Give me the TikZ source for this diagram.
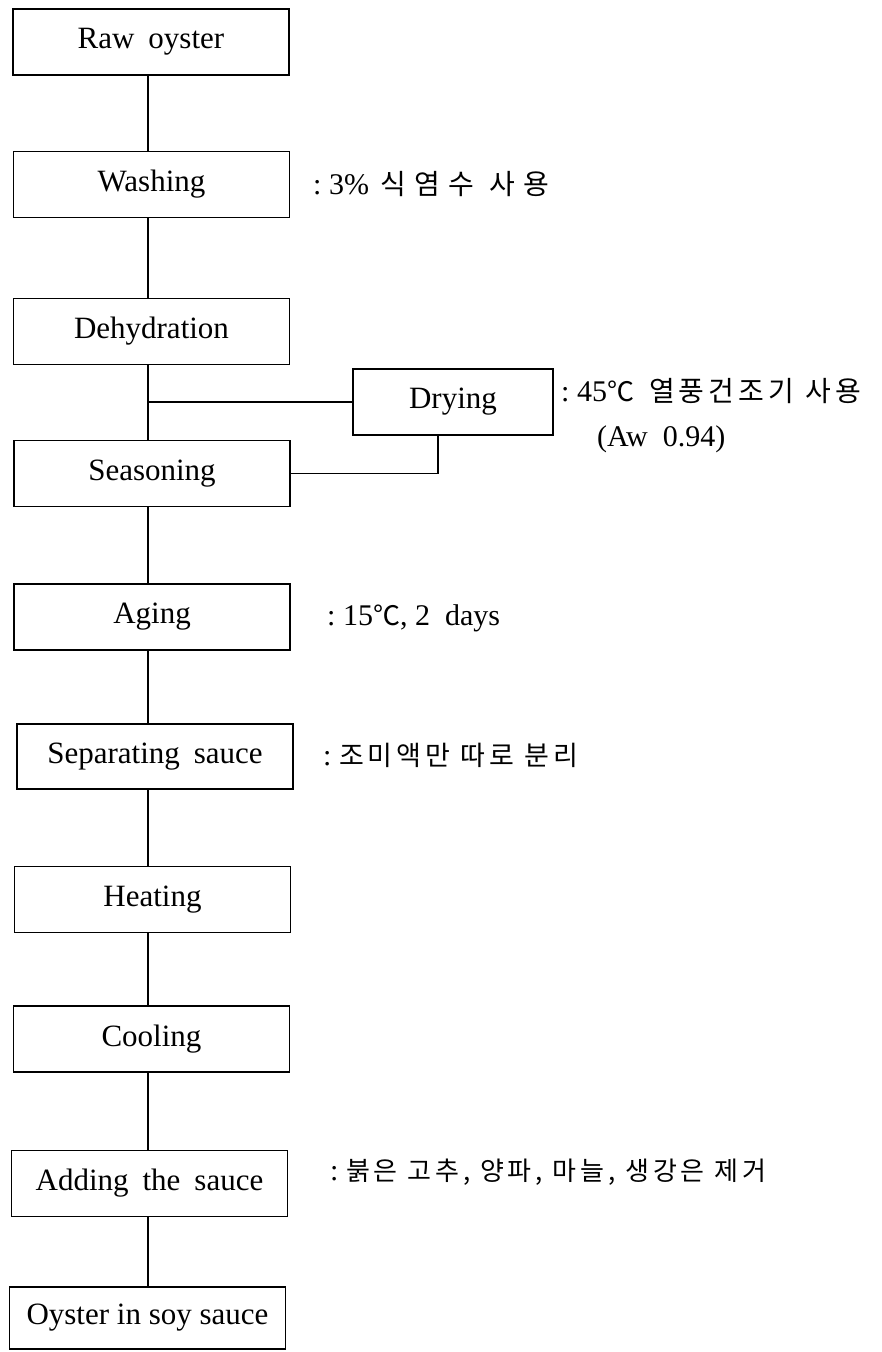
\documentclass[tikz,border=0pt]{standalone}
\usepackage{fontspec}
\setmainfont{Liberation Serif}
\newfontfamily\kr[LetterSpace=15]{Noto Sans CJK KR}
\newfontfamily\krwide[LetterSpace=30]{Noto Sans CJK KR}
\newfontfamily\krsym{Noto Sans CJK KR}
\usetikzlibrary{calc}

\newcommand{\krtext}[2]{{\kr\fontsize{#1}{#1}\selectfont #2}}
\newcommand{\krwidetext}[2]{{\krwide\fontsize{#1}{#1}\selectfont #2}}
\newcommand{\degc}{{\krsym\fontsize{27}{28}\selectfont ℃}}
\newcommand{\wsp}{\hspace{0.45em}}

\begin{document}
\begin{tikzpicture}[x=1pt,y=-1pt,
  stepbox/.style={draw, line width=1.8pt, minimum width=276pt, minimum height=66pt,
    inner sep=0pt, font=\fontsize{31}{33}\selectfont},
  conn/.style={line width=1.8pt},
  note/.style={anchor=west, inner sep=0pt, font=\fontsize{30}{32}\selectfont}]
\useasboundingbox (0,0) rectangle (881,1352);

% process steps
\node[stepbox] (raw)   at (151,42)     {Raw\wsp oyster};
\node[stepbox] (wash)  at (151.5,184.5) {Washing};
\node[stepbox] (dehy)  at (151.5,331.5) {Dehydration};
\node[stepbox] (seas)  at (152,473.5)  {Seasoning};
\node[stepbox, minimum width=200pt] (dry) at (453,402) {Drying};
\node[stepbox] (aging) at (152,617)    {Aging};
\node[stepbox, minimum height=65pt] (sep) at (155,756.5) {Separating\wsp sauce};
\node[stepbox] (heat)  at (152.5,899.5) {Heating};
\node[stepbox] (cool)  at (151.5,1039) {Cooling};
\node[stepbox] (add)   at (149.5,1183.5) {Adding\wsp the\wsp sauce};
\node[stepbox, minimum height=62pt] (oys) at (147.5,1318) {Oyster in soy sauce};

% main trunk
\coordinate (tx) at (148,0);
\foreach \a/\b in {raw/wash, wash/dehy, dehy/seas, seas/aging, aging/sep,
                   sep/heat, heat/cool, cool/add, add/oys}
  \draw[conn] (\a.south -| tx) -- (\b.north -| tx);

% drying side branch
\coordinate (dx) at (438,0);
\draw[conn] (dry.west -| tx) -- (dry.west);
\draw[conn] (dry.south -| dx) |- (seas.east);

% annotations
\node[note] (n1) at (313,184)  {:\ 3\%\ \hspace{4pt}\krwidetext{28}{식염수 사용}};
\node[note] (n2) at (561,391)  {:\ 45\degc\ \ \krtext{28}{열풍건조기 사용}};
\node[note] (n3) at (597,439)  {(Aw\ \ 0.94)};
\node[note] (n4) at (327,618)  {:\ 15\degc,\ 2\ \ days};
\node[note] (n5) at (323,755)  {:\ \krtext{27}{조미액만 따로 분리}};
\node[note] (n6) at (330,1172) {:\ \krtext{26}{붉은 고추, 양파, 마늘, 생강은 제거}};
\end{tikzpicture}
\end{document}
